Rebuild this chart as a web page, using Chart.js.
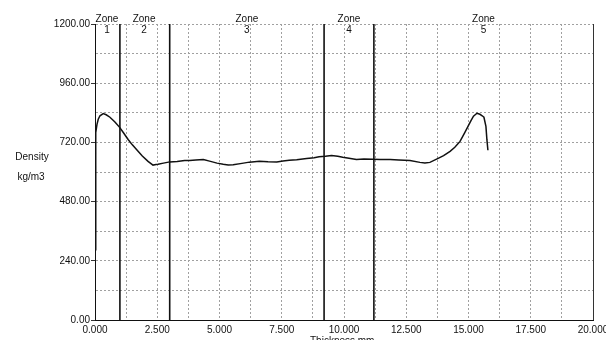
<!DOCTYPE html>
<html>
<head>
<meta charset="utf-8">
<script src="https://cdn.jsdelivr.net/npm/chart.js"></script>
<style>
  body { margin: 0; background: #fff; }
  canvas { display: block; }
</style>
</head>
<body>
<canvas id="myChart" width="606" height="340"></canvas>
<script>
// density profile (thickness in mm, density in kg/m3)
const thickness = [0.00, 0.03, 0.08, 0.13, 0.20, 0.33, 0.45, 0.60, 0.80, 0.99,
  1.15, 1.33, 1.50, 1.73, 1.90, 2.13, 2.33, 2.45, 2.53, 2.75,
  3.00, 3.30, 3.60, 3.80, 4.05, 4.35, 4.60, 4.90, 5.15, 5.35,
  5.55, 5.90, 6.20, 6.60, 6.95, 7.30, 7.55, 7.80, 8.10, 8.50,
  8.80, 9.00, 9.25, 9.50, 9.75, 9.95, 10.20, 10.50, 10.80, 11.15,
  11.45, 11.85, 12.20, 12.65, 13.05, 13.25, 13.45, 13.78, 14.00, 14.26,
  14.45, 14.66, 14.85, 14.98, 15.10, 15.20, 15.34, 15.46, 15.55, 15.62,
  15.70, 15.74, 15.78];
const density = [285, 760, 793, 814, 828, 837, 832, 822, 803, 781,
  758, 732, 710, 684, 665, 643, 628, 630, 631, 636,
  641, 643, 647, 647, 649, 651, 644, 636, 631, 628,
  629, 635, 640, 644, 642, 641, 645, 648, 650, 655,
  658, 662, 664, 667, 664, 660, 656, 651, 653, 652,
  651, 651, 649, 647, 639, 637, 639, 655, 666, 684,
  700, 724, 760, 785, 808, 826, 838, 834, 828, 822,
  785, 730, 688];

// zone boundaries and labels
const zoneLines = [1.0, 3.0, 9.2, 11.2];
const zoneLabelX = [0.48, 1.97, 6.1, 10.2, 15.6];
const zoneNames = ['1', '2', '3', '4', '5'];

const yMax = 1200;
const xMax = 20;

const datasets = [{
  data: thickness.map((t, i) => ({ x: t, y: density[i] })),
  borderColor: '#111',
  borderWidth: 1.5,
  pointRadius: 0,
  tension: 0
}];
zoneLines.forEach((z) => {
  datasets.push({
    data: [{ x: z, y: 0 }, { x: z, y: yMax }],
    borderColor: '#111',
    borderWidth: 1.6,
    pointRadius: 0
  });
});

const extras = {
  id: 'extras',
  afterDraw(chart) {
    const ctx = chart.ctx;
    const xs = chart.scales.x;
    const a = chart.chartArea;
    ctx.save();
    // right frame
    ctx.strokeStyle = '#333';
    ctx.lineWidth = 1;
    ctx.beginPath();
    ctx.moveTo(a.right + 0.5, a.top);
    ctx.lineTo(a.right + 0.5, a.bottom);
    ctx.stroke();
    ctx.fillStyle = '#111';
    ctx.font = '10px "Liberation Sans", Arial, sans-serif';
    ctx.textAlign = 'center';
    ctx.textBaseline = 'middle';
    zoneLabelX.forEach((z, i) => {
      const px = xs.getPixelForValue(z);
      ctx.fillText('Zone', px, 19);
      ctx.fillText(zoneNames[i], px, 30);
    });
    // axis titles
    ctx.fillText('Density', 32, 157);
    ctx.fillText('kg/m3', 31, 177);
    ctx.textAlign = 'left';
    ctx.textBaseline = 'top';
    ctx.fillText('Thickness mm', 310, 336);
    ctx.restore();
  }
};

const isMult = (v, s) => Math.abs(v / s - Math.round(v / s)) < 1e-6;

new Chart(document.getElementById('myChart').getContext('2d'), {
  type: 'line',
  data: { datasets: datasets },
  options: {
    responsive: false,
    animation: false,
    layout: { padding: { top: 24, right: 13, left: 0, bottom: 0 } },
    plugins: { legend: { display: false }, tooltip: { enabled: false } },
    scales: {
      x: {
        type: 'linear',
        min: 0,
        max: xMax,
        afterFit: (s) => { s.height = 20; s.paddingLeft = 0; s.paddingRight = 0; },
        ticks: {
          stepSize: 1.25,
          autoSkip: false,
          maxRotation: 0,
          padding: 4,
          color: '#111',
          font: { family: '"Liberation Sans", Arial, sans-serif', size: 10 },
          callback: (v) => isMult(v, 2.5) ? v.toFixed(3) : ''
        },
        grid: { color: '#a0a0a0', drawTicks: false },
        border: { color: '#111', width: 1, dash: [2, 2] }
      },
      y: {
        min: 0,
        max: yMax,
        afterFit: (s) => { s.width = 95; s.paddingTop = 0; s.paddingBottom = 0; },
        ticks: {
          stepSize: 120,
          autoSkip: false,
          padding: 1,
          color: '#111',
          font: { family: '"Liberation Sans", Arial, sans-serif', size: 10 },
          callback: (v) => isMult(v, 240) ? v.toFixed(2) : ''
        },
        grid: {
          color: '#a0a0a0',
          tickLength: 4,
          tickColor: (c) => isMult(c.tick.value, 240) ? '#333' : 'rgba(0,0,0,0)'
        },
        border: { color: '#111', width: 1, dash: [2, 2] }
      }
    }
  },
  plugins: [extras]
});
</script>
</body>
</html>
